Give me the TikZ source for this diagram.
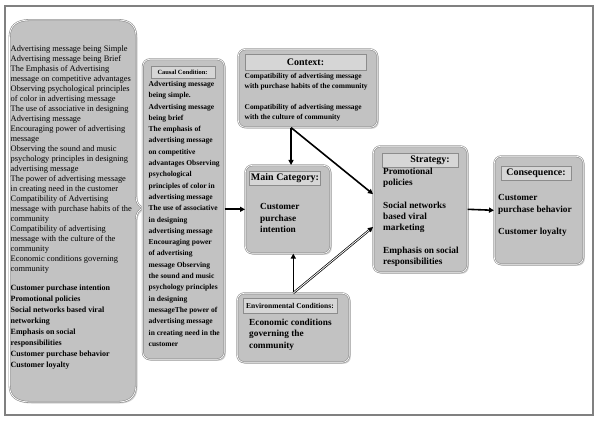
\documentclass[tikz,border=0pt]{standalone}
\usepackage{fontspec}
\setmainfont{Liberation Serif}
\usetikzlibrary{shadows,arrows.meta,calc}
\definecolor{boxfill}{RGB}{194,194,194}
\definecolor{barfill}{RGB}{214,214,214}
\definecolor{edgegray}{RGB}{140,140,140}
\definecolor{framegray}{RGB}{128,128,128}
\begin{document}
\begin{tikzpicture}[x=1pt,y=-1pt,
  box/.style={draw=edgegray, double=white, double distance=0.7pt, line width=0.6pt,
    fill=boxfill, rounded corners=7pt,
    drop shadow={opacity=0.35,shadow xshift=1.5pt,shadow yshift=-1.5pt},
    inner sep=0pt, anchor=north west},
  bar/.style={draw=edgegray, line width=0.5pt, fill=barfill, inner sep=0pt, anchor=north west},
  ttl/.style={font=\bfseries\fontsize{10}{12}\selectfont, inner sep=0pt},
  txt/.style={align=left, inner sep=0pt, anchor=north west},
  conn/.style={line width=1.6pt, -{Triangle[length=5pt,width=5pt]}}
]
\useasboundingbox (0,0) rectangle (597,422);
\fill[white] (0,0) rectangle (597,422);
\draw[framegray, line width=1.5pt] (5,6) rectangle (593,415);

% left scroll shape
\path[fill=boxfill, draw=edgegray, double=white, double distance=0.7pt, line width=0.6pt,
  drop shadow={opacity=0.35,shadow xshift=1.5pt,shadow yshift=-1.5pt}]
  (9.5,38) .. controls (9.5,26) and (16,20) .. (30,20) -- (118,20)
  .. controls (130,20) and (136,26) .. (136,36) -- (136,196)
  .. controls (136,203) and (139,206) .. (143,208)
  .. controls (139,210) and (136,213) .. (136,220) -- (136,385)
  .. controls (136,396) and (130,402) .. (118,402) -- (30,402)
  .. controls (16,402) and (9.5,396) .. (9.5,385) -- cycle;
\node[txt, font=\fontsize{8.4}{10}\selectfont] (lt1) at (10.5,45.5) {Advertising message being Simple\\
Advertising message being Brief\\
The Emphasis of Advertising\\
message on competitive advantages\\
Observing psychological principles\\
of color in advertising message\\
The use of associative in designing\\
Advertising message\\
Encouraging power of advertising\\
message\\
Observing the sound and music\\
psychology principles in designing\\
advertising message\\
The power of advertising message\\
in creating need in the customer\\
Compatibility of Advertising\\
message with purchase habits of the\\
community\\
Compatibility of advertising\\
message with the culture of the\\
community\\
Economic conditions governing\\
community};
\node[txt, font=\bfseries\fontsize{8}{11}\selectfont] (lt2) at (10.5,284.5) {Customer purchase intention\\
Promotional policies\\
Social networks based viral\\
networking\\
Emphasis on social\\
responsibilities\\
Customer purchase behavior\\
Customer loyalty};

% causal conditions
\node[box, minimum width=81.5, minimum height=300] (causal) at (142.5,59) {};
\node[bar, minimum width=63.5, minimum height=12] (causalbar) at (151,66) {};
\node[ttl, font=\bfseries\fontsize{6.4}{8}\selectfont] (causalttl) at (182.5,72) {Causal Condition:};
\node[txt, font=\bfseries\fontsize{7.5}{11.3}\selectfont] (causaltxt) at (148.5,81) {Advertising message\\
being simple.\\
Advertising message\\
being brief\\
The emphasis of\\
advertising message\\
on competitive\\
advantages Observing\\
psychological\\
principles of color in\\
advertising message\\
The use of associative\\
in designing\\
advertising message\\
Encouraging power\\
of advertising\\
message Observing\\
the sound and music\\
psychology principles\\
in designing\\
messageThe power of\\
advertising message\\
in creating need in the\\
customer};

% context
\node[box, minimum width=139, minimum height=78] (context) at (238,49) {};
\node[bar, minimum width=121, minimum height=16] (contextbar) at (245,54) {};
\node[ttl] (contextttl) at (305.5,62.5) {Context:};
\node[txt, font=\bfseries\fontsize{7.4}{10}\selectfont] (contexttxt) at (244.5,73.5) {Compatibility of advertising message\\
with purchase habits of the community\\[11pt]
Compatibility of advertising message\\
with the culture of community};

% main category
\node[box, minimum width=85, minimum height=88] (main) at (245,165) {};
\node[bar, minimum width=71, minimum height=14] (mainbar) at (249,171) {};
\node[ttl] (mainttl) at (285,178) {Main Category:};
\node[txt, font=\bfseries\fontsize{9.3}{11.5}\selectfont] (maintxt) at (260,203.5) {Customer\\
purchase\\
intention};

% environmental conditions
\node[box, minimum width=112, minimum height=69] (env) at (237,293) {};
\node[bar, minimum width=94, minimum height=15] (envbar) at (243,298) {};
\node[ttl, font=\bfseries\fontsize{7.5}{9}\selectfont] (envttl) at (290,306) {Environmental Conditions:};
\node[txt, font=\bfseries\fontsize{9.3}{11.5}\selectfont] (envtxt) at (249,318.5) {Economic conditions\\
governing the\\
community};

% strategy
\node[box, minimum width=94, minimum height=126] (strat) at (373,146) {};
\node[bar, minimum width=76, minimum height=14] (stratbar) at (382,153) {};
\node[ttl] (stratttl) at (430,160.5) {Strategy:};
\node[txt, font=\bfseries\fontsize{9.3}{11.3}\selectfont] (strattxt) at (383,167.5) {Promotional\\
policies\\[11.5pt]
Social networks\\
based viral\\
marketing\\[11.5pt]
Emphasis on social\\
responsibilities};

% consequence
\node[box, minimum width=89, minimum height=108] (cons) at (494,156) {};
\node[bar, minimum width=70, minimum height=14] (consbar) at (501,166) {};
\node[ttl] (consttl) at (536,173) {Consequence:};
\node[txt, font=\bfseries\fontsize{9.3}{11.3}\selectfont] (constxt) at (498,194.5) {Customer\\
purchase behavior\\[11pt]
Customer loyalty};

% connectors
\coordinate (ctxout) at ($(context.south west)!0.38!(context.south east)$);
\coordinate (envout) at (env.north);
\draw[conn] (causal.east) -- (main.west);
\draw[conn] (ctxout) -- (ctxout |- main.north);
\draw[conn] (ctxout) -- ($(strat.north west)!0.38!(strat.south west)$);
\draw[conn] (envout) -- (envout |- main.south);
\draw[conn, line width=0.7pt, double=white, double distance=0.8pt] (envout) -- ($(strat.north west)!0.64!(strat.south west)$);
\draw[conn] (strat.east) -- (cons.west);
\end{tikzpicture}
\end{document}
